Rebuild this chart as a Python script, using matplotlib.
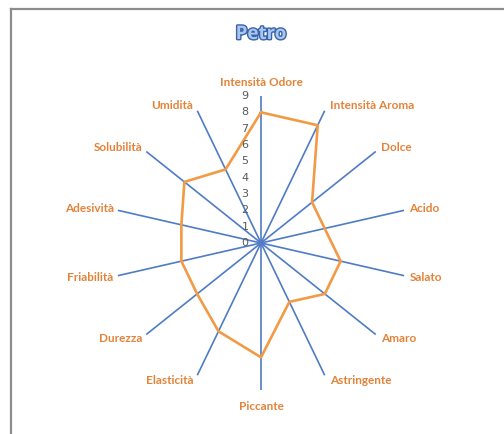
import numpy as np
import matplotlib
matplotlib.use("Agg")
import matplotlib.pyplot as plt
import matplotlib.patheffects as pe
from matplotlib.lines import Line2D

categories = ["Intensità Odore", "Intensità Aroma", "Dolce", "Acido", "Salato",
              "Amaro", "Astringente", "Piccante", "Elasticità", "Durezza",
              "Friabilità", "Adesività", "Solubilità", "Umidità"]
values = [8, 8, 4, 4, 5, 5, 4, 7, 6, 5, 5, 5, 6, 5]
ticks = list(range(0, 10))
title = "Petro"

W, H = 504, 434
fig = plt.figure(figsize=(W / 100, H / 100), dpi=100)
fig.patch.set_facecolor("white")

cx, cy, R = 261, 243, 147
ax = fig.add_axes([(cx - R) / W, (H - cy - R) / H, 2 * R / W, 2 * R / H], projection="polar")
ax.set_theta_offset(np.pi / 2)
ax.set_theta_direction(-1)
ax.set_ylim(0, 9)
ax.grid(False)
ax.spines["polar"].set_visible(False)
ax.set_xticks([])
ax.set_yticks([])
ax.patch.set_alpha(0)

n = len(categories)
angles = np.arange(n) * 2 * np.pi / n

spoke_color = "#4F7CC4"
for a in angles:
    ax.plot([a, a], [0, 9], color=spoke_color, lw=1.2, solid_capstyle="butt", zorder=2)

vals = values + values[:1]
angs = list(angles) + [angles[0]]
ax.plot(angs, vals, color="#F29A45", lw=1.9, zorder=3, clip_on=False)

label_color = "#E3833A"
for a, lab in zip(angles, categories):
    s, c = np.sin(a), np.cos(a)
    if abs(s) < 1e-6:
        off = (0, 14 if c > 0 else -16)
        ha = "center"
    elif s > 0:
        off = (5, 6 * c)
        ha = "left"
    else:
        off = (-4, 6 * c)
        ha = "right"
    ax.annotate(lab, xy=(a, 9), xytext=off, textcoords="offset pixels",
                ha=ha, va="center", fontsize=8.5, fontweight="bold",
                family="Lato", color=label_color, annotation_clip=False)

for t in ticks:
    ax.annotate(str(t), xy=(0, t), xytext=(-16, 0), textcoords="offset pixels",
                ha="center", va="center", fontsize=8, color="#595959",
                family="DejaVu Sans", annotation_clip=False)

fig.text(261 / W, 1 - 34 / H, title, ha="center", va="center", fontsize=13.5,
         fontweight="bold", family="Open Sans", color="#A9C6EE",
         path_effects=[pe.withStroke(linewidth=2.0, foreground="#3A63A8")])

# chart frame (top and left edges visible)
fig.add_artist(Line2D([11 / W, 1], [1 - 8.5 / H, 1 - 8.5 / H], transform=fig.transFigure,
                      color="#8C8C8C", lw=1.6))
fig.add_artist(Line2D([11 / W, 11 / W], [0, 1 - 8.5 / H], transform=fig.transFigure,
                      color="#8C8C8C", lw=1.6))

fig.savefig("out.png", dpi=100, facecolor="white")
